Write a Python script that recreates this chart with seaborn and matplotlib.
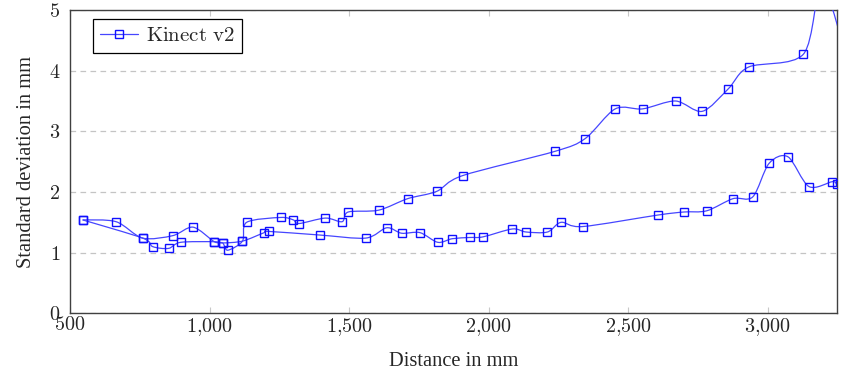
"""
Standard deviation vs. distance for Kinect v2 (pgfplots-style re-draw)
"""

import numpy as np
import matplotlib
matplotlib.use("Agg")
import matplotlib.pyplot as plt
from matplotlib.path import Path
from matplotlib.patches import PathPatch
from matplotlib.lines import Line2D
import seaborn as sns

# upper sweep (x in mm, std in mm)
upper_x = [545, 665, 760, 868, 941, 1017, 1047, 1065, 1118, 1133, 1255, 1300, 1321,
           1415, 1475, 1497, 1606, 1710, 1814, 1907, 2238, 2346, 2454, 2552, 2670,
           2766, 2859, 2932, 3128, 3195, 3290]
upper_y = [1.54, 1.51, 1.24, 1.28, 1.42, 1.18, 1.16, 1.04, 1.19, 1.50, 1.58, 1.54, 1.48,
           1.57, 1.51, 1.67, 1.70, 1.89, 2.01, 2.27, 2.67, 2.88, 3.37, 3.37, 3.50,
           3.33, 3.70, 4.06, 4.27, 5.40, 4.10]

# lower sweep
lower_x = [545, 760, 796, 853, 896, 1017, 1047, 1118, 1196, 1212, 1396, 1560, 1635,
           1688, 1754, 1818, 1870, 1933, 1980, 2085, 2135, 2211, 2260, 2337, 2607,
           2700, 2782, 2876, 2947, 3005, 3073, 3148, 3232, 3247]
lower_y = [1.54, 1.24, 1.10, 1.07, 1.17, 1.18, 1.16, 1.19, 1.33, 1.35, 1.29, 1.24, 1.41,
           1.32, 1.33, 1.17, 1.23, 1.25, 1.26, 1.39, 1.34, 1.34, 1.50, 1.43, 1.62,
           1.67, 1.69, 1.89, 1.92, 2.47, 2.58, 2.09, 2.17, 2.13]

series_label = "Kinect v2"
x_ticks = [500, 1000, 1500, 2000, 2500, 3000]
y_ticks = [0, 1, 2, 3, 4, 5]

LINE_COLOR = "#4646ff"
MARK_COLOR = "#1010ff"


def smooth_path(xs, ys, tension=0.15):
    """Cubic Bezier through the points, like TikZ 'smooth'."""
    pts = np.column_stack([xs, ys]).astype(float)
    n = len(pts)
    verts = [pts[0]]
    codes = [Path.MOVETO]
    for i in range(n - 1):
        p0 = pts[i - 1] if i > 0 else pts[i]
        p1, p2 = pts[i], pts[i + 1]
        p3 = pts[i + 2] if i + 2 < n else pts[i + 1]
        verts += [p1 + tension * (p2 - p0), p2 - tension * (p3 - p1), p2]
        codes += [Path.CURVE4] * 3
    return Path(verts, codes)


def main():
    sns.set_style("white")
    plt.rcParams["mathtext.fontset"] = "cm"
    plt.rcParams["font.family"] = ["Liberation Serif", "DejaVu Serif"]

    fig = plt.figure(figsize=(8.52, 3.72), dpi=100)
    ax = fig.add_axes([0.0822, 0.1578, 0.9006, 0.8153])

    for xs, ys in [(upper_x, upper_y), (lower_x, lower_y)]:
        ax.add_patch(PathPatch(smooth_path(xs, ys), facecolor="none",
                               edgecolor=LINE_COLOR, linewidth=0.9, zorder=3))
        sns.lineplot(x=xs, y=ys, sort=False, estimator=None, ax=ax,
                     linestyle="none", marker="s", markersize=6,
                     markerfacecolor="none", markeredgecolor=MARK_COLOR,
                     markeredgewidth=1.0, zorder=4)

    ax.set_xlim(500, 3250)
    ax.set_ylim(0, 5)
    ax.set_xticks(x_ticks)
    ax.set_xticklabels([r"$%s$" % f"{v:,}".replace(",", "{,}") for v in x_ticks])
    ax.set_yticks(y_ticks)
    ax.set_yticklabels([r"$%d$" % v for v in y_ticks])

    ax.yaxis.grid(True, color="#c4c4c4", linestyle=(0, (4.5, 3.5)), linewidth=0.9)
    ax.xaxis.grid(False)
    ax.set_axisbelow(True)

    ax.tick_params(axis="x", direction="in", length=4, width=0.8, color="#c8c8c8",
                   top=True, bottom=True, labelsize=14.5, pad=2)
    ax.tick_params(axis="y", direction="in", length=0, labelsize=14.5, pad=7)
    for sp in ax.spines.values():
        sp.set_color("#404040")
        sp.set_linewidth(1.0)

    ax.set_xlabel("Distance in mm", fontsize=14.8, labelpad=10)
    ax.set_ylabel("Standard deviation in mm", fontsize=14.8, labelpad=9)

    handle = Line2D([], [], color=LINE_COLOR, linewidth=0.9, marker="s", markersize=6,
                    markerfacecolor="none", markeredgecolor=MARK_COLOR,
                    markeredgewidth=1.0)
    leg = ax.legend([handle], [r"$\mathrm{Kinect\ v2}$"], loc="upper left",
                    bbox_to_anchor=(0.03, 0.97), fontsize=15, frameon=True,
                    fancybox=False, edgecolor="black", framealpha=1,
                    handlelength=1.8, handletextpad=0.4, borderpad=0.35,
                    borderaxespad=0)
    leg.get_frame().set_linewidth(0.9)

    fig.savefig("out.png", dpi=100)


if __name__ == "__main__":
    main()
